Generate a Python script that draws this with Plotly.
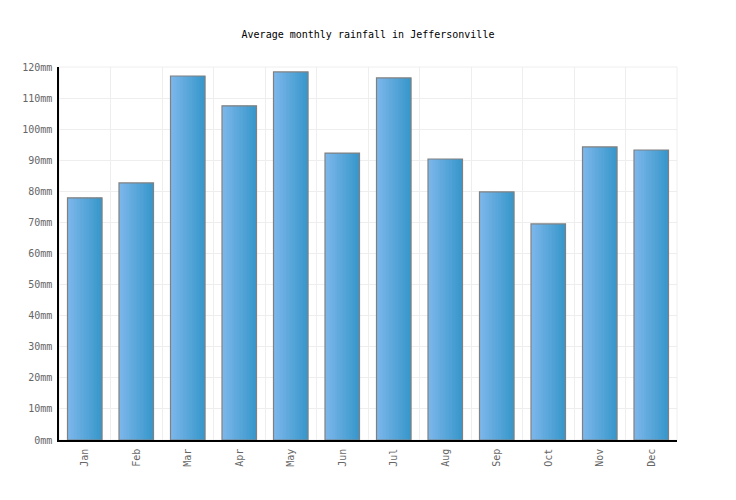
import plotly.graph_objects as go

months = ["Jan", "Feb", "Mar", "Apr", "May", "Jun", "Jul", "Aug", "Sep", "Oct", "Nov", "Dec"]
rainfall_mm = [77.9, 82.7, 117.1, 107.5, 118.4, 92.3, 116.5, 90.4, 79.8, 69.5, 94.3, 93.3]
y_ticks = list(range(0, 121, 10))
y_tick_labels = ["%dmm" % v for v in y_ticks]
title_text = "Average monthly rainfall in Jeffersonville"

x_idx = list(range(len(months)))
bar_w = 0.67
n_slices = 24
c0 = (0x7d, 0xb7, 0xeb)
c1 = (0x38, 0x97, 0xcb)

# page body has an 8px offset; compensate in margins
off = 8

fig = go.Figure()
for k in range(n_slices):
    t = k / (n_slices - 1)
    col = "rgb(%d,%d,%d)" % tuple(round(a + (b - a) * t) for a, b in zip(c0, c1))
    sw = bar_w / n_slices
    fig.add_trace(go.Bar(
        x=x_idx, y=rainfall_mm,
        width=sw * 1.15, offset=-bar_w / 2 + k * sw,
        marker=dict(color=col, line=dict(width=0)),
        hoverinfo="skip", showlegend=False,
    ))
fig.add_trace(go.Bar(
    x=x_idx, y=rainfall_mm, width=bar_w, offset=-bar_w / 2,
    marker=dict(color="rgba(0,0,0,0)", line=dict(color="#808080", width=1.2)),
    showlegend=False,
    customdata=months,
    hovertemplate="%{customdata}: %{y}mm<extra></extra>",
))

fig.update_layout(
    width=736, height=500,
    barmode="overlay",
    plot_bgcolor="white", paper_bgcolor="white",
    margin=dict(l=59 - off, r=59 + off, t=67 - off, b=60 + off, autoexpand=False),
    font=dict(family="DejaVu Sans Mono", size=10, color="#666666"),
    title=dict(text=title_text, x=(368 - off) / 736, xanchor="center",
               y=1 - (34 - off) / 500, yanchor="middle",
               font=dict(family="DejaVu Sans Mono", size=10, color="#000000")),
    shapes=[dict(type="rect", xref="paper", yref="paper", x0=0, x1=1, y0=0, y1=1,
                 line=dict(color="#eeeeee", width=1), layer="below")],
)
fig.update_xaxes(
    range=[-0.5, len(months) - 0.5],
    tickmode="array", tickvals=x_idx, ticktext=months, tickangle=-90,
    showgrid=False, zeroline=False,
    showline=True, linecolor="#000000", linewidth=1.5,
    ticks="", ticklen=0, automargin=False, ticklabelstandoff=3,
    minor=dict(tickmode="linear", tick0=0.5, dtick=1, showgrid=True,
               gridcolor="#eeeeee", gridwidth=1, ticks=""),
    tickfont=dict(color="#666666", size=10),
)
fig.update_yaxes(
    range=[0, 120], tickmode="array", tickvals=y_ticks, ticktext=y_tick_labels,
    showgrid=True, gridcolor="#eeeeee", gridwidth=1, zeroline=False,
    showline=True, linecolor="#000000", linewidth=1.5,
    ticks="", automargin=False, ticklabelstandoff=3,
    tickfont=dict(color="#666666", size=10),
)

fig.write_html("out.html")
